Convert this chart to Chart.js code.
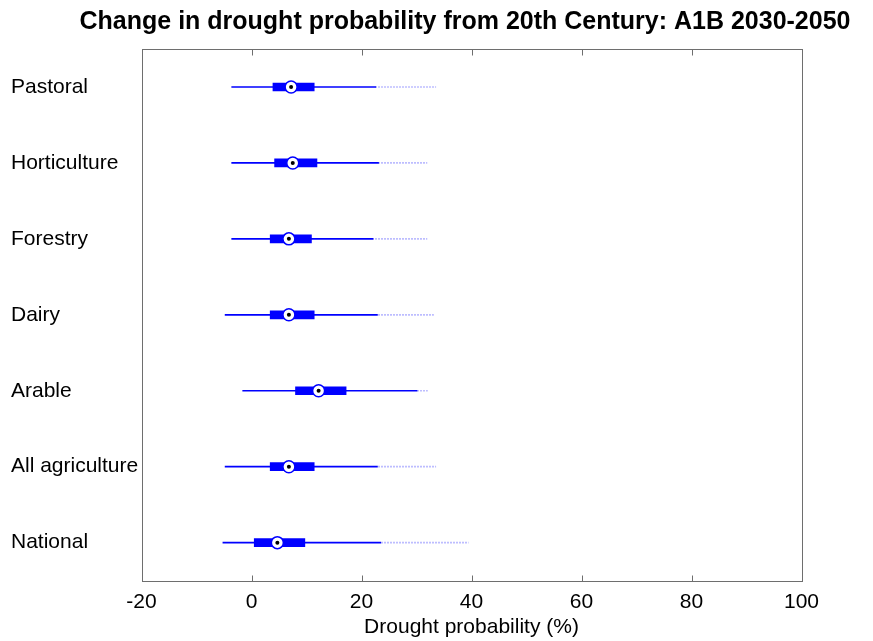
<!DOCTYPE html>
<html>
<head>
<meta charset="utf-8">
<script src="https://cdn.jsdelivr.net/npm/chart.js@4"></script>
<style>
  html, body { margin: 0; padding: 0; background: #fff; }
  #wrap { width: 873px; height: 641px; }
</style>
</head>
<body>
<div id="wrap"><canvas id="box-chart"></canvas></div>
<script>
// values (drought probability change, %)
var categories  = ["Pastoral", "Horticulture", "Forestry", "Dairy", "Arable", "All agriculture", "National"];
var whiskerLow  = [-3.6, -3.6, -3.6, -4.8, -1.6, -4.8, -5.2];
var boxLow      = [3.9, 4.2, 3.4, 3.4, 8.0, 3.4, 0.5];
var medians     = [7.2, 7.5, 6.8, 6.8, 12.2, 6.8, 4.7];
var boxHigh     = [11.4, 11.9, 10.9, 11.4, 17.2, 11.4, 9.7];
var whiskerHigh = [22.6, 23.1, 22.1, 22.9, 30.1, 22.9, 23.5];
var outlierHigh = [33.5, 31.9, 31.9, 33.1, 32.0, 33.5, 39.4];
var xTicks      = [-20, 0, 20, 40, 60, 80, 100];

var FONT = "'Liberation Sans', Arial, Helvetica, sans-serif";

function boxChart() {
  var ctx = document.getElementById("box-chart").getContext("2d");

  // dotted look for the outlier tails
  var dotCanvas = document.createElement("canvas");
  dotCanvas.width = 3;
  dotCanvas.height = 1;
  var dctx = dotCanvas.getContext("2d");
  dctx.fillStyle = "rgba(90, 90, 255, 0.4)";
  dctx.fillRect(0, 0, 2, 1);
  var dotted = ctx.createPattern(dotCanvas, "repeat");

  var tails = [], whiskers = [], boxes = [], mids = [];
  for (let i = 0; i < categories.length; i++) {
    tails[i] = [whiskerHigh[i], outlierHigh[i]];
    whiskers[i] = [whiskerLow[i], whiskerHigh[i]];
    boxes[i] = [boxLow[i], boxHigh[i]];
    mids[i] = { x: medians[i], y: categories[i] };
  }

  var framePlugin = {
    id: "frame",
    afterDraw: function(chart) {
      var c = chart.ctx, a = chart.chartArea, sx = chart.scales.x;
      var l = Math.round(a.left) + 0.5, r = Math.round(a.right) + 0.5;
      var t = Math.round(a.top) + 0.5, b = Math.round(a.bottom) + 0.5;
      c.save();
      c.strokeStyle = "#6e6e6e";
      c.lineWidth = 1;
      c.strokeRect(l, t, r - l, b - t);
      c.beginPath();
      for (let i = 0; i < xTicks.length; i++) {
        var px = Math.round(sx.getPixelForValue(xTicks[i])) + 0.5;
        c.moveTo(px, b); c.lineTo(px, b - 6);
        c.moveTo(px, t); c.lineTo(px, t + 6);
      }
      c.stroke();
      c.restore();
    }
  };

  new Chart(ctx, {
    type: "bar",
    data: {
      labels: categories,
      datasets: [
        {
          data: tails,
          backgroundColor: dotted,
          barThickness: 1,
          grouped: false,
          order: 5
        },
        {
          data: whiskers,
          backgroundColor: "#0000ff",
          barThickness: 1,
          grouped: false,
          order: 4
        },
        {
          data: boxes,
          backgroundColor: "#0000ff",
          barThickness: 8,
          grouped: false,
          order: 3
        },
        {
          type: "line",
          indexAxis: "y",
          data: mids,
          showLine: false,
          pointRadius: 6,
          pointBackgroundColor: "#ffffff",
          pointBorderColor: "#0000ff",
          pointBorderWidth: 1.5,
          order: 2
        },
        {
          type: "line",
          indexAxis: "y",
          data: mids,
          showLine: false,
          pointRadius: 2,
          pointBackgroundColor: "#000000",
          pointBorderColor: "#000000",
          pointBorderWidth: 0,
          order: 1
        }
      ]
    },
    options: {
      indexAxis: "y",
      responsive: true,
      maintainAspectRatio: false,
      animation: false,
      layout: {
        padding: { left: 57, right: 0, top: 0, bottom: 0 }
      },
      plugins: {
        legend: { display: false },
        tooltip: { enabled: false },
        title: {
          display: true,
          text: "Change in drought probability from 20th Century: A1B 2030-2050",
          color: "#000",
          font: { family: FONT, size: 25, weight: "bold" },
          padding: { top: 7, bottom: 12 }
        }
      },
      scales: {
        x: {
          type: "linear",
          min: -20,
          max: 100,
          afterBuildTicks: function(scale) {
            scale.ticks = xTicks.map(function(v) { return { value: v }; });
          },
          grid: { display: false, drawTicks: false },
          border: { display: false },
          ticks: {
            color: "#000",
            padding: 9,
            font: { family: FONT, size: 21 }
          },
          title: {
            display: true,
            text: "Drought probability (%)",
            color: "#000",
            font: { family: FONT, size: 21 },
            padding: { top: -9, bottom: 1 }
          }
        },
        y: {
          type: "category",
          offset: true,
          grid: { display: false, drawTicks: false },
          border: { display: false },
          afterFit: function(scale) {
            scale.width = 84.5;
          },
          // mirrored + negative padding puts the left-aligned labels at x = 11
          ticks: {
            color: "#000",
            mirror: true,
            padding: -130.5,
            font: { family: FONT, size: 21 }
          }
        },
        // empty right-hand gutter so the frame ends where the reference's does
        yRight: {
          type: "category",
          position: "right",
          offset: true,
          grid: { display: false, drawTicks: false },
          border: { display: false },
          ticks: { display: false },
          afterFit: function(scale) {
            scale.width = 71.5;
          }
        }
      }
    },
    plugins: [framePlugin]
  });
}

boxChart();
</script>
</body>
</html>
